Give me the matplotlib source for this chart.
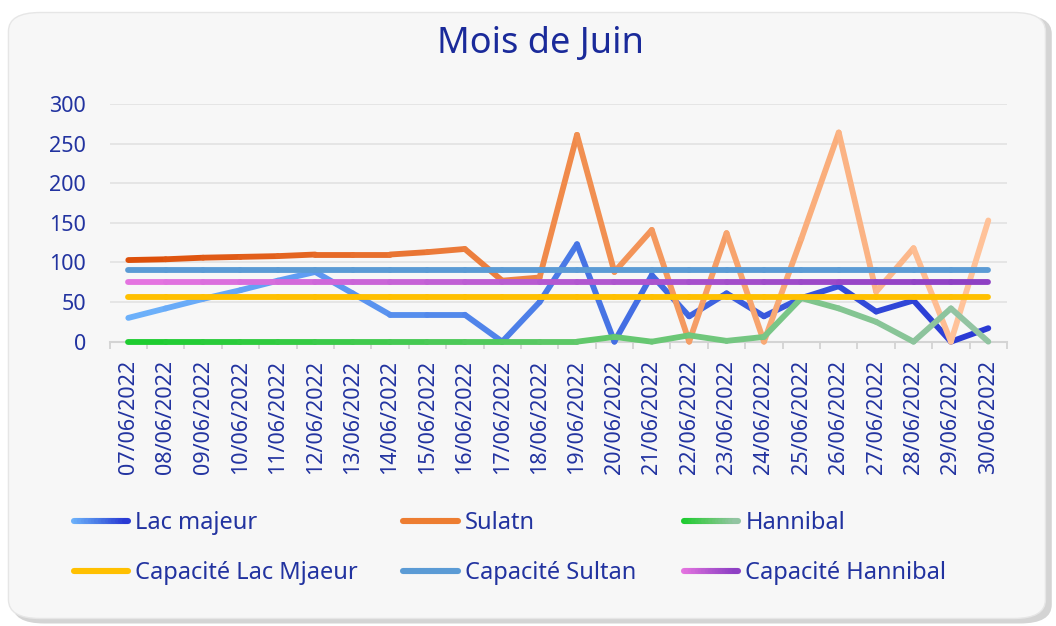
import numpy as np
import matplotlib
matplotlib.use("Agg")
import matplotlib.pyplot as plt
from matplotlib.collections import LineCollection
from matplotlib.colors import LinearSegmentedColormap
from matplotlib.legend_handler import HandlerBase
from matplotlib.lines import Line2D
from matplotlib.patches import FancyBboxPatch

plt.rcParams["font.family"] = ["Noto Sans", "DejaVu Sans"]

# --- data ---
dates = ["07/06/2022", "08/06/2022", "09/06/2022", "10/06/2022", "11/06/2022",
         "12/06/2022", "13/06/2022", "14/06/2022", "15/06/2022", "16/06/2022",
         "17/06/2022", "18/06/2022", "19/06/2022", "20/06/2022", "21/06/2022",
         "22/06/2022", "23/06/2022", "24/06/2022", "25/06/2022", "26/06/2022",
         "27/06/2022", "28/06/2022", "29/06/2022", "30/06/2022"]
lac_majeur = [30, 42, 54, 65, 77, 88, 61, 34, 34, 34, 0, 50,
              123, 0, 84, 32, 61, 32, 55, 70, 38, 52, 0, 17]
sulatn = [103, 104, 106, 107, 108, 110, 110, 110, 113, 117, 77, 81,
          261, 88, 141, 0, 137, 0, 130, 264, 63, 118, 0, 153]
hannibal = [0, 0, 0, 0, 0, 0, 0, 0, 0, 0, 0, 0,
            0, 6, 0, 8, 1, 6, 55, 42, 25, 0, 42, 0]
cap_lac = 56
cap_sultan = 90
cap_hannibal = 75

TXT = "#2233a0"

# gradient colours (left -> right), like the Excel line fills
grad = {
    "Lac majeur": ["#6cb0fa", "#4a7ae6", "#2a3ad4"],
    "Sulatn": ["#dd500a", "#f08a4a", "#ffc299"],
    "Hannibal": ["#1ecc30", "#5cc866", "#92c4a2"],
    "Capacité Lac Mjaeur": ["#ffc000", "#ffc000"],
    "Capacité Sultan": ["#5b9bd5", "#5b9bd5"],
    "Capacité Hannibal": ["#e474e0", "#b458d0", "#8e40c4"],
}
cmaps = {k: LinearSegmentedColormap.from_list(k, v) for k, v in grad.items()}
# the legend swatch for Sulatn is a flat orange in the original
legend_cmaps = dict(cmaps)
legend_cmaps["Sulatn"] = LinearSegmentedColormap.from_list("s", ["#ed7d31", "#ed7d31"])


def gradient_line(ax, x, y, cmap, lw=4.2, z=3):
    pts = np.column_stack([x, y])
    segs = np.stack([pts[:-1], pts[1:]], axis=1)
    t = np.linspace(0, 1, len(segs))
    lc = LineCollection(segs, colors=cmap(t), linewidths=lw,
                        capstyle="round", joinstyle="round", zorder=z)
    lc.set_clip_on(False)
    ax.add_collection(lc)


class GradientHandler(HandlerBase):
    def __init__(self, cmap):
        super().__init__()
        self.cmap = cmap

    def create_artists(self, legend, orig_handle, xdescent, ydescent,
                       width, height, fontsize, trans):
        n = 16
        xs = np.linspace(-xdescent, width - xdescent, n + 1)
        yc = height / 2 - ydescent
        segs = [[(xs[i], yc), (xs[i + 1], yc)] for i in range(n)]
        lc = LineCollection(segs, colors=self.cmap(np.linspace(0, 1, n)),
                            linewidths=4.4, capstyle="round", transform=trans)
        return [lc]


fig = plt.figure(figsize=(10.56, 6.26), dpi=100, facecolor="white")

# card background with soft shadow
shadow = FancyBboxPatch((0.012, 0.004), 0.984, 0.972, boxstyle="round,pad=0,rounding_size=0.03",
                        transform=fig.transFigure, fc="#d4d4d4", ec="none", zorder=-3)
card = FancyBboxPatch((0.008, 0.012), 0.982, 0.968, boxstyle="round,pad=0,rounding_size=0.03",
                      transform=fig.transFigure, fc="#f7f7f7", ec="#e6e6e6", lw=1, zorder=-2)
fig.patches.extend([shadow, card])

ax = fig.add_axes([0.1038, 0.4542, 0.8498, 0.3797])
ax.set_facecolor("none")

x = np.arange(len(dates))
gradient_line(ax, x, lac_majeur, cmaps["Lac majeur"], z=3)
gradient_line(ax, x, sulatn, cmaps["Sulatn"], z=3.1)
gradient_line(ax, x, hannibal, cmaps["Hannibal"], z=3.2)
gradient_line(ax, x, np.full(len(x), cap_lac), cmaps["Capacité Lac Mjaeur"], z=3.3)
gradient_line(ax, x, np.full(len(x), cap_sultan), cmaps["Capacité Sultan"], z=3.4)
gradient_line(ax, x, np.full(len(x), cap_hannibal), cmaps["Capacité Hannibal"], z=3.5)

ax.set_xlim(-0.5, len(dates) - 0.5)
ax.set_ylim(0, 300)
ax.set_yticks(np.arange(0, 301, 50))
ax.set_xticks(x)
ax.set_xticklabels(dates, rotation=90)
ax.set_xticks(np.arange(-0.5, len(dates), 1), minor=True)
ax.tick_params(axis="x", which="major", length=0, pad=13, labelsize=15.5, labelcolor=TXT)
ax.tick_params(axis="x", which="minor", length=5, width=1.2, color="#d0d0d0", direction="out")
ax.tick_params(axis="y", length=0, pad=17, labelsize=15.5, labelcolor=TXT)

ax.grid(axis="y", color="#e2e2e2", lw=1.2, zorder=0)
ax.set_axisbelow(True)
for s in ["top", "right", "left"]:
    ax.spines[s].set_visible(False)
ax.spines["bottom"].set_color("#d4d4d4")
ax.spines["bottom"].set_linewidth(1.5)

fig.text(0.512, 0.930, "Mois de Juin", ha="center", va="center", fontsize=26, color="#1a2a9a")

# legend: three columns, two rows
cols = [["Lac majeur", "Capacité Lac Mjaeur"],
        ["Sulatn", "Capacité Sultan"],
        ["Hannibal", "Capacité Hannibal"]]
col_x = [0.0698, 0.3819, 0.6477]
for names, cx in zip(cols, col_x):
    handles = [Line2D([], []) for _ in names]
    hmap = {h: GradientHandler(legend_cmaps[n]) for h, n in zip(handles, names)}
    fig.legend(handles, names, handler_map=hmap, loc="upper left",
               bbox_to_anchor=(cx, 0.183), frameon=False, fontsize=17,
               labelcolor=TXT, handlelength=2.3, handletextpad=0.3,
               labelspacing=1.1, borderpad=0, borderaxespad=0)

fig.savefig("out.png", dpi=100, facecolor="white")
